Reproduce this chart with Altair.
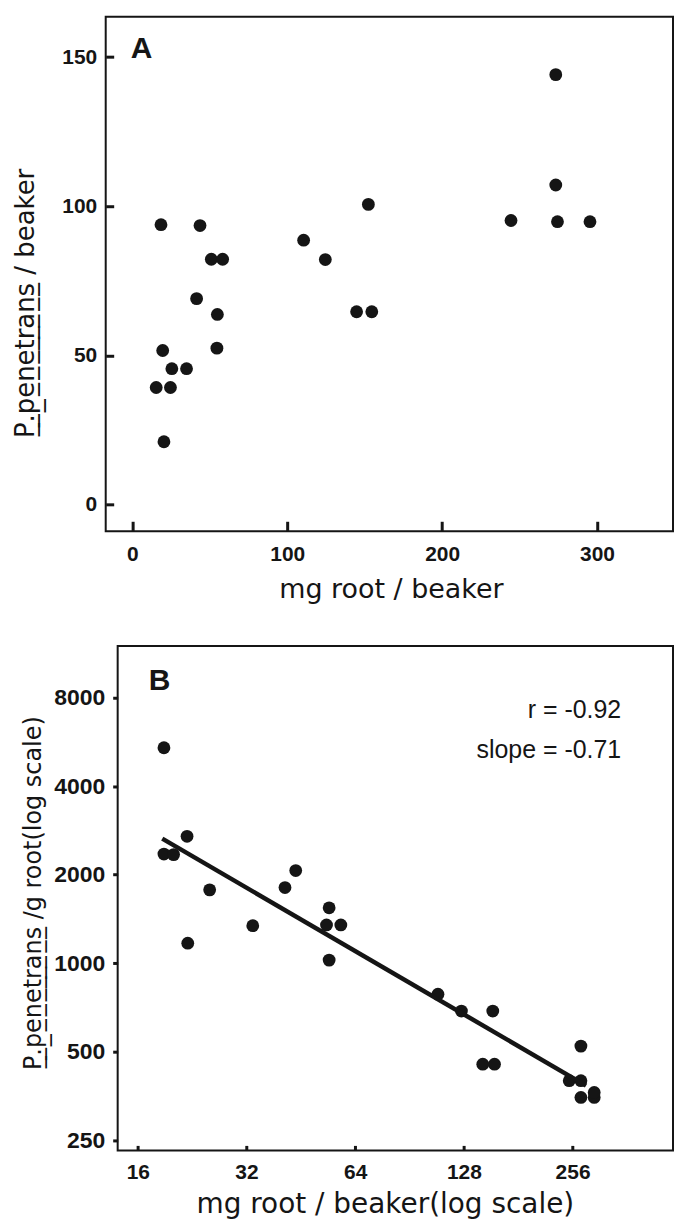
import altair as alt
import pandas as pd

INK = "#151515"

# ---------------- Panel A data ----------------
a_root_mg = [273.4, 273.4, 274.5, 295.5, 244.5, 152.4, 110.6, 124.6, 144.8, 154.6,
             18.5, 43.7, 51.0, 58.3, 41.5, 54.9, 54.6, 19.6, 25.5, 35.0, 15.4, 24.6, 20.4]
a_pen = [144.1, 107.1, 94.8, 94.8, 95.2, 100.6, 88.6, 82.1, 64.6, 64.6,
         93.8, 93.5, 82.2, 82.2, 69.0, 63.7, 52.4, 51.6, 45.5, 45.5, 39.2, 39.2, 21.0]
a_xticks = [0, 100, 200, 300]
a_yticks = [0, 50, 100, 150]
a_xdomain = [-17.2, 349.1]
a_ydomain = [-9.0, 163.5]

# ---------------- Panel B data ----------------
b_root_mg = [18.9, 18.9, 20.1, 21.9, 22.0, 25.3, 33.3, 40.9, 43.8, 54.2, 53.3, 58.4, 54.2,
             108.5, 126.0, 153.9, 144.4, 155.6, 270.0, 250.6, 270.0, 270.0, 293.9, 293.9]
b_pen_g = [5400, 2350, 2340, 2700, 1170, 1776, 1342, 1808, 2065, 1543, 1350, 1350, 1025,
           785, 688, 688, 454, 454, 523, 399, 399, 350, 350, 364]
b_fit_x = [18.7, 279.0]
b_fit_y = [2652, 384]
b_xticks = [16, 32, 64, 128, 256]
b_yticks = [250, 500, 1000, 2000, 4000, 8000]
b_xdomain = [14.07, 485.8]
b_ydomain = [231.3, 11978]
b_notes = ["r = -0.92", "slope = -0.71"]

ul = lambda s: "".join(c + "\u0332" for c in s)
a_ytitle = ul("P.penetrans") + " / beaker"
b_ytitle = ul("P.penetrans") + " /g root(log scale)"

LABEL = dict(labelFont="Liberation Sans", labelFontWeight="bold", labelColor=INK,
             ticks=True, tickColor=INK, domain=False, grid=False, labelFlush=False,
             titleFont="DejaVu Sans", titleFontWeight="normal", titleColor=INK,
             titleBaseline="alphabetic", titleAlign="center")

W, HA, HB = 569, 516, 506
B_LEFT = 12  # panel B frame starts a little to the right of panel A's frame

# ---------------- Panel A ----------------
sxa = alt.Scale(domain=a_xdomain, nice=False, zero=False)
sya = alt.Scale(domain=a_ydomain, nice=False, zero=False)
dfA = pd.DataFrame({"mg": a_root_mg, "pen": a_pen})

ptsA = alt.Chart(dfA).mark_circle(size=165, opacity=1, color=INK).encode(
    x=alt.X("mg:Q", scale=sxa, axis=alt.Axis(values=a_xticks, title="mg root / beaker",
            offset=-10, tickSize=10, tickWidth=3,
            labelFontSize=21, labelPadding=12, titleFontSize=27, titleX=286, titleY=76, **LABEL)),
    y=alt.Y("pen:Q", scale=sya, axis=alt.Axis(values=a_yticks, title=a_ytitle,
            offset=-8, tickSize=8, tickWidth=3,
            labelFontSize=21, labelPadding=9, titleFontSize=26, titleAngle=270,
            titleX=-80, titleY=287, **LABEL)),
)
labA = alt.Chart(pd.DataFrame({"t": ["A"]})).mark_text(
    font="Liberation Sans", fontWeight="bold", fontSize=30, color=INK,
    align="center", baseline="middle").encode(text="t:N", x=alt.value(36), y=alt.value(32))
# invisible helper that fixes how far the figure reaches to the left
padA = alt.Chart(pd.DataFrame({"k": [0]})).mark_rule(opacity=0, strokeWidth=1).encode(
    x=alt.value(-95), x2=alt.value(-94), y=alt.value(0))
chartA = alt.layer(ptsA, labA, padA).properties(width=W, height=HA)

# ---------------- Panel B ----------------
sxb = alt.Scale(type="log", base=2, domain=b_xdomain, nice=False, range=[B_LEFT, W])
syb = alt.Scale(type="log", base=2, domain=b_ydomain, nice=False)
dfB = pd.DataFrame({"mg": b_root_mg, "pg": b_pen_g})
dfFit = pd.DataFrame({"mg": b_fit_x, "pg": b_fit_y})

frameB = alt.Chart(pd.DataFrame({"k": [0]})).mark_rect(
    filled=False, stroke=INK, strokeWidth=2).encode(
    x=alt.X("x0:Q", scale=sxb), x2="x1:Q", y=alt.Y("y0:Q", scale=syb), y2="y1:Q"
).transform_calculate(x0=str(b_xdomain[0]), x1=str(b_xdomain[1]),
                      y0=str(b_ydomain[0]), y1=str(b_ydomain[1]))

ptsB = alt.Chart(dfB).mark_circle(size=165, opacity=1, color=INK).encode(
    x=alt.X("mg:Q", scale=sxb, axis=alt.Axis(values=b_xticks, format="d",
            title="mg root / beaker(log scale)", offset=-5, tickSize=5, tickWidth=3,
            labelFontSize=21, labelPadding=11,
            titleFontSize=28, titleX=280, titleY=67, **LABEL)),
    y=alt.Y("pg:Q", scale=syb, axis=alt.Axis(values=b_yticks, format="d", title=b_ytitle,
            offset=-B_LEFT, tickSize=5, tickWidth=3,
            labelFontSize=23, labelPadding=8, titleFontSize=24, titleAngle=270,
            titleX=-77, titleY=247.5, **LABEL)),
)
fitB = alt.Chart(dfFit).mark_line(color=INK, strokeWidth=4.5, strokeCap="butt").encode(
    x=alt.X("mg:Q", scale=sxb), y=alt.Y("pg:Q", scale=syb))
labB = alt.Chart(pd.DataFrame({"t": ["B"]})).mark_text(
    font="Liberation Sans", fontWeight="bold", fontSize=30, color=INK,
    align="center", baseline="middle").encode(text="t:N", x=alt.value(54), y=alt.value(35))
dfN = pd.DataFrame({"t": b_notes, "yy": [64.5, 104.5]})
notesB = alt.Chart(dfN).mark_text(
    font="Liberation Sans", fontSize=25, color=INK, align="right", baseline="middle").encode(
    text="t:N", x=alt.value(517), y=alt.Y("yy:Q", scale=None))
chartB = alt.layer(ptsB, frameB, fitB, labB, notesB).properties(
    width=W, height=HB, view=alt.ViewBackground(stroke="transparent"))

chart = alt.concat(chartA, chartB, columns=1, spacing=41).properties(
    padding={"left": 2, "top": 6, "right": 0, "bottom": 0}
).configure_view(stroke=INK, strokeWidth=2)

chart.save("out.html", embed_options={"renderer": "svg", "actions": False})
